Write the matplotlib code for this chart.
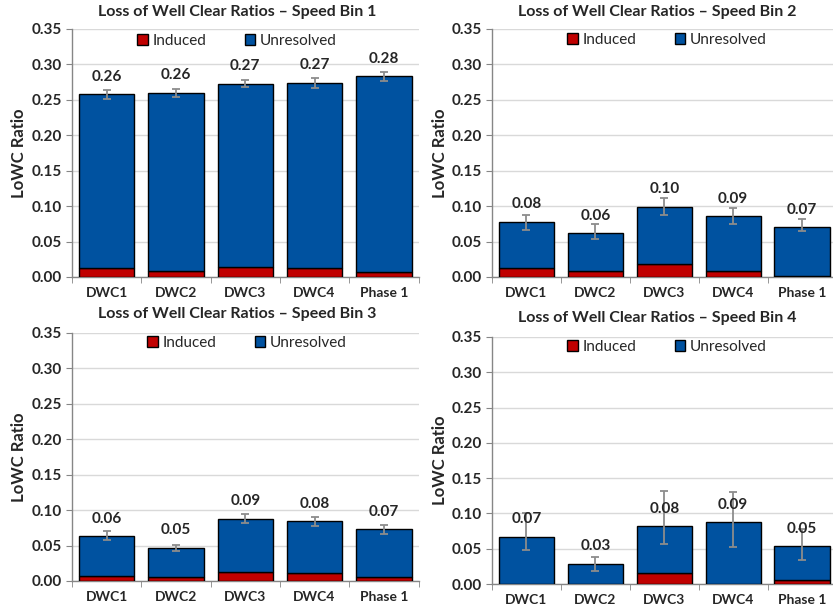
import numpy as np
import matplotlib.pyplot as plt
from matplotlib.patches import Patch

plt.rcParams['font.family'] = ['Lato', 'DejaVu Sans']

# categories and values
categories = ['DWC1', 'DWC2', 'DWC3', 'DWC4', 'Phase 1']
titles = ['Loss of Well Clear Ratios \u2013 Speed Bin 1',
          'Loss of Well Clear Ratios \u2013 Speed Bin 2',
          'Loss of Well Clear Ratios \u2013 Speed Bin 3',
          'Loss of Well Clear Ratios \u2013 Speed Bin 4']

induced_1 = [0.012, 0.008, 0.014, 0.013, 0.007]
total_1 = [0.258, 0.260, 0.273, 0.274, 0.283]
err_lo_1 = [0.0066, 0.006, 0.005, 0.007, 0.0057]
err_hi_1 = [0.0066, 0.006, 0.005, 0.007, 0.0057]

induced_2 = [0.012, 0.009, 0.019, 0.008, 0.001]
total_2 = [0.078, 0.062, 0.099, 0.086, 0.070]
err_lo_2 = [0.011, 0.008, 0.012, 0.011, 0.005]
err_hi_2 = [0.0095, 0.013, 0.013, 0.011, 0.0125]

induced_3 = [0.007, 0.005, 0.012, 0.011, 0.006]
total_3 = [0.063, 0.047, 0.088, 0.084, 0.073]
err_lo_3 = [0.0045, 0.0045, 0.0065, 0.0066, 0.0066]
err_hi_3 = [0.0075, 0.0045, 0.007, 0.0066, 0.0066]

induced_4 = [0.0, 0.0, 0.0155, 0.0, 0.005]
total_4 = [0.067, 0.029, 0.082, 0.088, 0.054]
err_lo_4 = [0.0195, 0.011, 0.0255, 0.0353, 0.0207]
err_hi_4 = [0.033, 0.0096, 0.050, 0.0424, 0.024]

RED = '#C00000'
BLUE = '#0052A0'
TXT = '#262626'
W, H = 833, 611

fig = plt.figure(figsize=(W / 100, H / 100), dpi=100)

# panel layout in pixels: (left, top, right, bottom, title_x, title_y, legend_x, legend_y, ylabel_x)
panels = [
    (72, 29, 418.5, 277, 237, 12, 237, 41, 19),
    (492, 29, 836.5, 277, 657, 12, 667, 40, 440),
    (72, 333, 418.5, 581, 237, 314, 247, 343, 19),
    (492, 337, 836.5, 584, 657, 318, 667, 347, 440),
]
data = [(induced_1, total_1, err_lo_1, err_hi_1),
        (induced_2, total_2, err_lo_2, err_hi_2),
        (induced_3, total_3, err_lo_3, err_hi_3),
        (induced_4, total_4, err_lo_4, err_hi_4)]

x = np.arange(len(categories))
yt = np.arange(0, 0.351, 0.05)
for (l, t, r, b, tx, ty, lx, ly, yx), (ind, tot, elo, ehi), title in zip(panels, data, titles):
    ax = fig.add_axes([l / W, 1 - b / H, (r - l) / W, (b - t) / H])
    ind = np.array(ind)
    tot = np.array(tot)
    unres = tot - ind
    ax.bar(x, ind, width=0.8, color=RED, edgecolor='black', linewidth=1, zorder=3)
    ax.bar(x, unres, bottom=ind, width=0.8, color=BLUE, edgecolor='black', linewidth=1, zorder=3)
    ax.errorbar(x, tot, yerr=[elo, ehi], fmt='none', ecolor='#8c8c8c', elinewidth=1.3,
                capsize=3, capthick=1.3, zorder=4)
    for xi, v in zip(x, tot):
        ax.annotate(f'{v:.2f}', (xi, v), xytext=(0, 12.5), textcoords='offset points',
                    ha='center', va='center', fontsize=11, fontweight='bold',
                    color=TXT, zorder=5)

    ax.set_xlim(-0.5, len(categories) - 0.5)
    ax.set_ylim(0, 0.35)
    ax.set_yticks(yt)
    ax.set_yticklabels([f'{v:.2f}' for v in yt])
    ax.set_xticks(x)
    ax.set_xticklabels(categories)
    ax.set_xticks(np.arange(-0.5, len(categories)), minor=True)
    ax.tick_params(axis='x', which='major', length=0, pad=7, labelsize=10)
    ax.tick_params(axis='x', which='minor', length=4, color='#868686')
    ax.tick_params(axis='y', length=4, color='#868686', labelsize=11, pad=3)
    for lab in ax.get_xticklabels() + ax.get_yticklabels():
        lab.set_fontweight('bold')
        lab.set_color(TXT)
    ax.grid(axis='y', color='#d9d9d9', linewidth=1, zorder=0)
    ax.set_axisbelow(True)
    for s in ['top', 'right']:
        ax.spines[s].set_visible(False)
    for s in ['left', 'bottom']:
        ax.spines[s].set_color('#868686')
        ax.spines[s].set_linewidth(1)

    fig.text(tx / W, 1 - ty / H, title, ha='center', va='center',
             fontsize=11.5, fontweight='bold', color=TXT)
    fig.text(yx / W, 1 - ((t + b) / 2) / H, 'LoWC Ratio', rotation=90, ha='center',
             va='center', fontsize=12, fontweight='bold', color=TXT)

    handles = [Patch(facecolor=RED, edgecolor='black', label='Induced'),
               Patch(facecolor=BLUE, edgecolor='black', label='Unresolved')]
    ax.legend(handles=handles, loc='center', bbox_to_anchor=(lx / W, 1 - ly / H),
              bbox_transform=fig.transFigure, ncol=2, frameon=False, fontsize=11,
              handlelength=0.7, handleheight=0.7, handletextpad=0.3, columnspacing=2.5,
              labelcolor=TXT)

fig.savefig('out.png', dpi=100)
